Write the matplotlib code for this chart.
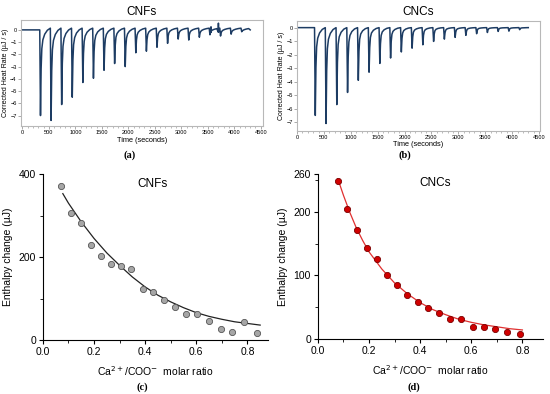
import numpy as np
import matplotlib
matplotlib.use("Agg")
import matplotlib.pyplot as plt
from matplotlib.ticker import MultipleLocator

# ---- ITC thermograms (top row) ----
inj_times = [340, 540, 740, 940, 1140, 1340, 1540, 1740, 1940, 2140,
             2340, 2540, 2740, 2940, 3140, 3340, 3540, 3740, 3940, 4140]
cnf_peaks = [-7.0, -7.4, -6.1, -5.5, -4.3, -3.95, -3.3, -2.75, -3.0, -1.87,
             -1.74, -1.42, -1.1, -0.75, -0.83, -0.6, -0.4, -0.5, -0.35, -0.15]
cnc_peaks = [-6.5, -7.1, -5.7, -4.8, -3.9, -3.3, -2.65, -2.25, -1.8, -1.52,
             -1.27, -1.02, -0.85, -0.72, -0.57, -0.45, -0.36, -0.28, -0.26, -0.15]
trace_end = 4300

# noise spikes on the CNFs baseline
cnf_spike_t = [3560, 3700]
cnf_spike_y = [0.25, 0.55]

# peak shape: time offset from peak minimum, fraction of peak depth
shape_dt = [-14, 0, 12, 25, 45, 80, 130, 186]
shape_frac = [0.0, 1.0, 0.45, 0.22, 0.12, 0.06, 0.02, 0.0]
# CNFs baseline creeps up slightly above zero before each injection
cnf_offset = [0.0, 0.0, 0.0, 0.0, 0.03, 0.07, 0.11, 0.14]
cnc_offset = [0.0, 0.0, 0.0, 0.0, 0.0, 0.0, 0.0, 0.0]

# ---- enthalpy vs molar ratio (bottom row) ----
cnf_ratio = [0.072, 0.111, 0.149, 0.187, 0.227, 0.267, 0.306, 0.346, 0.39, 0.43,
             0.472, 0.516, 0.56, 0.601, 0.65, 0.695, 0.741, 0.788, 0.837]
cnf_heat = [372, 307, 283, 229, 202, 183, 178, 171, 124, 115,
            96, 80, 62, 62, 46, 27, 20, 44, 17]
cnf_fit_x = [0.078, 0.1, 0.15, 0.2, 0.25, 0.3, 0.35, 0.4, 0.45, 0.5,
             0.55, 0.6, 0.65, 0.7, 0.75, 0.8, 0.85]
cnf_fit_y = [353, 330, 285, 245, 210, 180, 152, 128, 108, 92,
             78, 66, 57, 50, 44, 40, 36]

cnc_ratio = [0.078, 0.114, 0.152, 0.191, 0.23, 0.269, 0.308, 0.348, 0.39, 0.432,
             0.473, 0.518, 0.56, 0.605, 0.649, 0.693, 0.741, 0.789]
cnc_heat = [249, 204, 171, 143, 125, 100, 85, 69, 58, 48,
            41, 32, 32, 19, 19, 16, 10.5, 8]
cnc_fit_x = [0.078, 0.1, 0.125, 0.15, 0.175, 0.2, 0.25, 0.3, 0.35, 0.4,
             0.45, 0.5, 0.55, 0.6, 0.65, 0.7, 0.75, 0.8]
cnc_fit_y = [252, 226, 199, 175, 155, 137, 110, 88, 71, 57,
             46, 38, 31, 26, 22, 19, 16, 14]

navy = "#1d3c63"
frame = "#b8b8b8"

fig = plt.figure(figsize=(5.5, 3.94), dpi=100)
plt.rcParams['font.family'] = ['Liberation Sans', 'DejaVu Sans']


def build_trace(peaks, offset, spike_t=(), spike_y=()):
    pts = [(0, 0.0), (inj_times[0] - 14, 0.0)]
    for t0, d in zip(inj_times, peaks):
        for dt, f, o in zip(shape_dt[1:], shape_frac[1:], offset[1:]):
            if t0 + dt > trace_end:
                break
            pts.append((t0 + dt, d * f + o))
    # narrow noise spikes: up and straight back down
    for t, y in zip(spike_t, spike_y):
        base = [p for p in pts if p[0] <= t][-1][1]
        pts += [(t - 4, base), (t, y), (t + 4, base)]
    pts.append((trace_end, 0.0))
    pts.sort(key=lambda p: p[0])
    return [p[0] for p in pts], [p[1] for p in pts]


def thermo(rect, peaks, offset, ylim, xlim, title, spike_t=(), spike_y=()):
    ax = fig.add_axes(rect)
    ts, ys = build_trace(peaks, offset, spike_t, spike_y)
    ax.plot(ts, ys, color=navy, lw=1.1)
    ax.set_xlim(*xlim)
    ax.set_ylim(*ylim)
    ax.xaxis.set_major_locator(MultipleLocator(500))
    ax.xaxis.set_minor_locator(MultipleLocator(100))
    ax.yaxis.set_major_locator(MultipleLocator(1))
    ax.tick_params(labelsize=4.1, length=2, width=0.5, color="#888888", pad=1)
    ax.tick_params(which="minor", length=1.2, width=0.4, color="#888888")
    for s in ax.spines.values():
        s.set_color(frame)
        s.set_linewidth(0.8)
    ax.set_xlabel("Time (seconds)", fontsize=5.3, labelpad=1)
    ax.set_ylabel("Corrected Heat Rate (\u00b5J / s)", fontsize=5.0, labelpad=1)
    ax.set_title(title, fontsize=8.5, pad=4)
    return ax


thermo([0.038, 0.68, 0.44, 0.269], cnf_peaks, cnf_offset, (-7.86, 0.8), (-30, 4540), "CNFs",
       cnf_spike_t, cnf_spike_y)
thermo([0.54, 0.668, 0.442, 0.279], cnc_peaks, cnc_offset, (-7.64, 0.5), (0, 4520), "CNCs")


def enth(rect, x, y, fx, fy, ytop, yticks, yminor, mcolor, ecolor, lcolor, label, lpos):
    ax = fig.add_axes(rect)
    ax.plot(fx, fy, color=lcolor, lw=0.9, zorder=2)
    ax.scatter(x, y, s=20, color=mcolor, edgecolor=ecolor, linewidth=0.6, zorder=3)
    ax.set_xlim(0, 0.88)
    ax.set_ylim(0, ytop)
    ax.set_xticks([0.0, 0.2, 0.4, 0.6, 0.8])
    ax.xaxis.set_minor_locator(MultipleLocator(0.1))
    ax.set_yticks(yticks)
    ax.set_yticks(yminor, minor=True)
    for s in ["top", "right"]:
        ax.spines[s].set_visible(False)
    for s in ["left", "bottom"]:
        ax.spines[s].set_linewidth(0.8)
    ax.tick_params(labelsize=7.5, length=3, width=0.8, pad=2)
    ax.tick_params(which="minor", length=2, width=0.6)
    ax.set_xlabel("Ca$^{2+}$/COO$^{-}$  molar ratio", fontsize=7.5, labelpad=5)
    ax.set_ylabel("Enthalpy change (\u00b5J)", fontsize=7.5, labelpad=4)
    ax.text(lpos[0], lpos[1], label, fontsize=8.5, ha="center", va="center")
    return ax


enth([0.078, 0.137, 0.409, 0.421], cnf_ratio, cnf_heat, cnf_fit_x, cnf_fit_y, 400,
     [0, 200, 400], [100, 300], "#a6a6a6", "#555555", "#222222", "CNFs", (0.43, 377))
enth([0.578, 0.14, 0.409, 0.419], cnc_ratio, cnc_heat, cnc_fit_x, cnc_fit_y, 260,
     [0, 100, 200, 260], [50, 150, 250], "#d10000", "#7a0000", "#e03030", "CNCs", (0.46, 245))

for x, y, s in [(0.236, 0.607, "(a)"), (0.736, 0.607, "(b)"),
                (0.258, 0.018, "(c)"), (0.753, 0.018, "(d)")]:
    fig.text(x, y, s, fontsize=7.5, fontweight="bold", family="Liberation Serif",
             ha="center", va="center")

fig.savefig("out.png", dpi=100)
